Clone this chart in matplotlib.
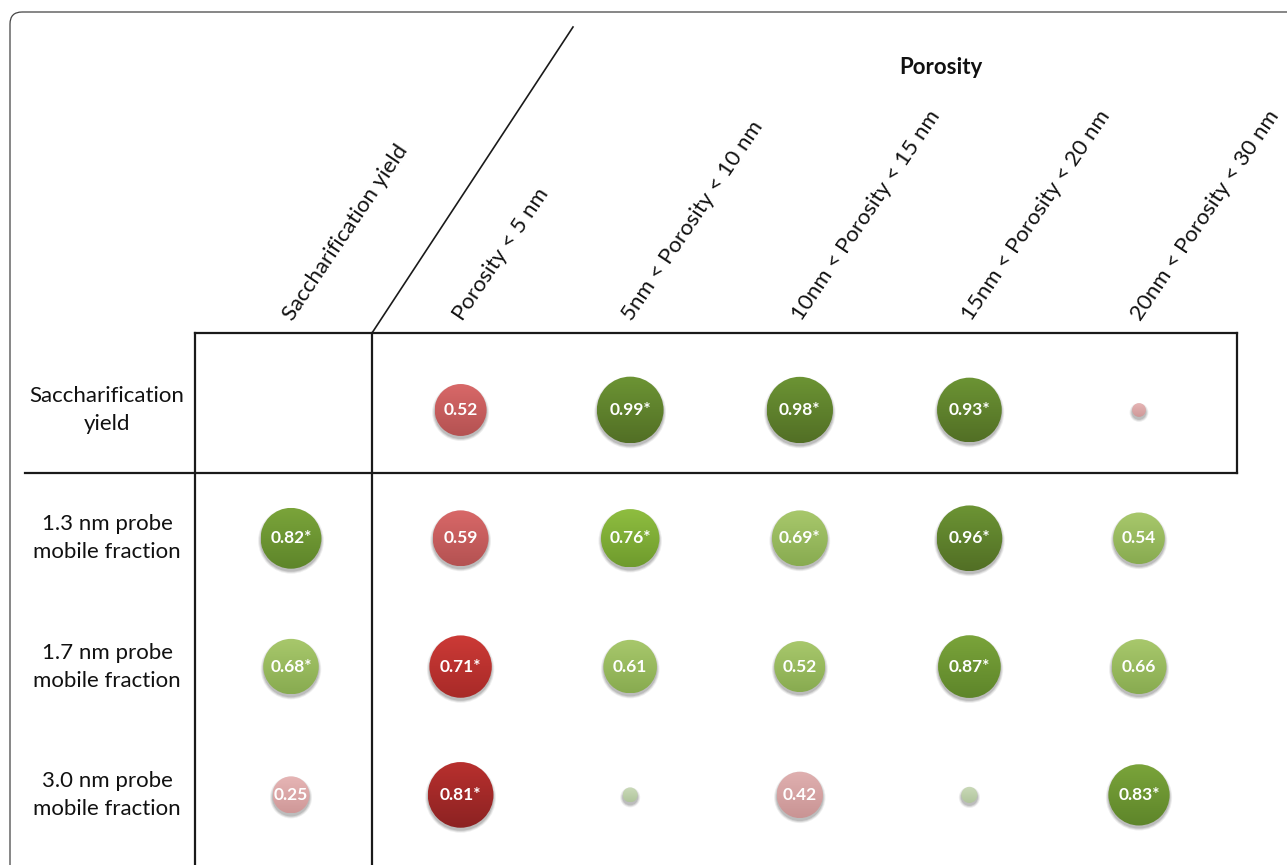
import numpy as np
import matplotlib
matplotlib.use("Agg")
import matplotlib.pyplot as plt
from matplotlib.patches import Circle, FancyBboxPatch
from matplotlib.colors import to_rgb

plt.rcParams['font.family'] = ['Lato', 'DejaVu Sans']

# Column / row headers
col_labels = ["Saccharification yield", "Porosity < 5 nm", "5nm < Porosity < 10 nm",
              "10nm < Porosity < 15 nm", "15nm < Porosity < 20 nm", "20nm < Porosity < 30 nm"]
row_labels = ["Saccharification\nyield", "1.3 nm probe\nmobile fraction",
              "1.7 nm probe\nmobile fraction", "3.0 nm probe\nmobile fraction"]

# Correlation coefficients (negative = red), None = empty cell
r_sacch = [None, -0.52, 0.99, 0.98, 0.93, -0.05]
r_13nm = [0.82, -0.59, 0.76, 0.69, 0.96, 0.54]
r_17nm = [0.68, -0.71, 0.61, 0.52, 0.87, 0.66]
r_30nm = [-0.25, -0.81, 0.06, -0.42, 0.07, 0.83]

# significance flags (asterisk)
sig_sacch = [False, False, True, True, True, False]
sig_13nm = [True, False, True, True, True, False]
sig_17nm = [True, True, False, False, True, False]
sig_30nm = [False, True, False, False, False, True]

values = [r_sacch, r_13nm, r_17nm, r_30nm]
sigs = [sig_sacch, sig_13nm, sig_17nm, sig_30nm]

W, H = 1287, 865
fig = plt.figure(figsize=(W / 100, H / 100), dpi=100)
ax = fig.add_axes([0, 0, 1, 1])
ax.set_xlim(0, W)
ax.set_ylim(H, 0)
ax.axis('off')

# layout (pixels)
x0, dx = 291, 169.6
y0, dy = 410, 128.3

# size scale: |r| -> diameter (red bubbles drawn a bit larger in the original)
size_r = [0, 0.25, 0.45, 0.7, 0.85, 1.0]
size_d_pos = [8, 37, 49, 56, 62, 67]
size_d_neg = [8, 37, 48, 62, 67, 70]

# colour scales: |r| -> (top, bottom) colours
green_r = [0.0, 0.2, 0.75, 0.8, 0.9]
green_top = ['#cbdab9', '#a8c86c', '#8fbe40', '#7aa43a', '#6c9434']
green_bot = ['#b0c59c', '#88ab50', '#6f9b2d', '#5e852a', '#526f25']
red_r = [0.0, 0.3, 0.5, 0.7, 0.8]
red_top = ['#e6b5b5', '#e0b0b0', '#d86868', '#cc3a36', '#b8302e']
red_bot = ['#cf9898', '#c99494', '#b45252', '#a82a28', '#8c2222']


def pick(r, stops, cols):
    idx = 0
    for i, s in enumerate(stops):
        if abs(r) >= s:
            idx = i
    return np.array(to_rgb(cols[idx]))


def bubble(cx, cy, r, star):
    if r >= 0:
        d = np.interp(abs(r), size_r, size_d_pos)
        top, bot = pick(r, green_r, green_top), pick(r, green_r, green_bot)
    else:
        d = np.interp(abs(r), size_r, size_d_neg)
        top, bot = pick(r, red_r, red_top), pick(r, red_r, red_bot)
    rad = d / 2
    # soft shadow
    for k, a in [(2.5, 0.10), (1.5, 0.15), (0.5, 0.2)]:
        ax.add_patch(Circle((cx, cy + 2.5), rad + k, color='#555555', alpha=a, lw=0, zorder=2))
    circ = Circle((cx, cy), rad, facecolor='none', edgecolor='none', zorder=3)
    ax.add_patch(circ)
    t = np.linspace(0, 1, 64)[:, None]
    grad = top[None, None, :] * (1 - t[..., None]) + bot[None, None, :] * t[..., None]
    grad = np.repeat(grad, 2, axis=1)
    im = ax.imshow(grad, extent=(cx - rad, cx + rad, cy + rad, cy - rad),
                   origin='upper', interpolation='bilinear', zorder=3)
    im.set_clip_path(circ)
    if abs(r) >= 0.2:
        txt = f"{abs(r):.2f}" + ("*" if star else "")
        ax.text(cx, cy, txt, color='white', fontsize=12.5, fontweight='bold',
                ha='center', va='center', zorder=4)


for j, row in enumerate(values):
    for i, r in enumerate(row):
        if r is None:
            continue
        bubble(x0 + i * dx, y0 + j * dy, r, sigs[j][i])

# table lines
lc = '#1a1a1a'
lw = 1.6
ax.plot([195, 195], [333, H], color=lc, lw=lw)
ax.plot([372, 372], [333, H], color=lc, lw=lw)
ax.plot([1237, 1237], [333, 473], color=lc, lw=lw)
ax.plot([195, 1237], [333, 333], color=lc, lw=lw)
ax.plot([25, 1237], [473, 473], color=lc, lw=lw)
ax.plot([372, 573], [333, 27], color=lc, lw=1.2)

# outer rounded frame
ax.add_patch(FancyBboxPatch((10, 12), 1400, 1000, boxstyle="round,pad=0,rounding_size=12",
                            fill=False, edgecolor='#444444', lw=0.9))

# headers
for i, lab in enumerate(col_labels):
    ax.text(x0 + i * dx - 3, 318, lab, rotation=56, rotation_mode='anchor',
            ha='left', va='center', fontsize=16, color='#111111')

for j, lab in enumerate(row_labels):
    ax.text(107, y0 + j * dy, lab, ha='center', va='center', fontsize=16,
            linespacing=1.5, color='#111111')

ax.text(941, 67, "Porosity", ha='center', va='center', fontsize=16,
        fontweight='bold', color='#111111')

fig.savefig("out.png", dpi=100)
